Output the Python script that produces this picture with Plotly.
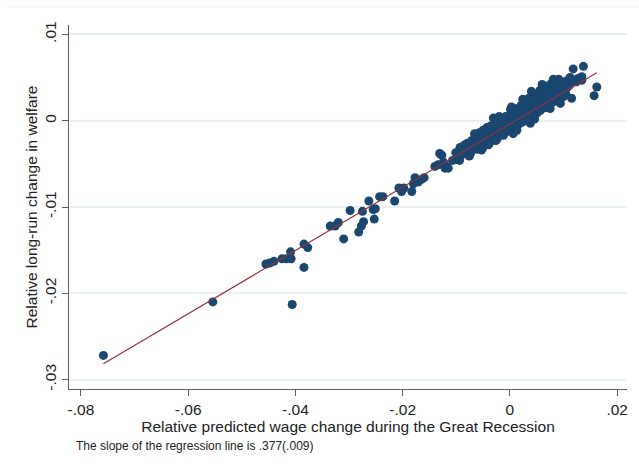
import plotly.graph_objects as go

# ---- data ----
wage_sparse = [-0.0758, -0.0554, -0.0406, -0.0455, -0.0448, -0.0440, -0.0425, -0.0417, -0.0409,
               -0.0408, -0.0384, -0.0377, -0.0384, -0.0335, -0.0326, -0.0320, -0.0310, -0.0298,
               -0.0282, -0.0277, -0.0273, -0.0275, -0.0263, -0.0255, -0.0251, -0.0253, -0.0243,
               -0.0237, -0.0215, -0.0207, -0.0202, -0.0198, -0.0183, -0.0180, -0.0177, -0.0171,
               -0.0165, -0.0160, -0.0140, -0.0134, -0.0127, -0.0124, -0.0121, -0.0115, -0.0107,
               -0.0099, -0.0096, -0.0131, -0.0118, -0.0084, -0.0075, -0.0059,
               0.0118, 0.0137, 0.0162, 0.0157, 0.0134, 0.0124, 0.0115, 0.0127]
welfare_sparse = [-0.0272, -0.0210, -0.0213, -0.0166, -0.0165, -0.0163, -0.0160, -0.0160, -0.0152,
                  -0.0160, -0.0143, -0.0147, -0.0170, -0.0122, -0.0122, -0.0118, -0.0137, -0.0104,
                  -0.0129, -0.0122, -0.0117, -0.0105, -0.0093, -0.0103, -0.0102, -0.0114, -0.0088,
                  -0.0088, -0.0093, -0.0078, -0.0082, -0.0078, -0.0082, -0.0073, -0.0066, -0.0071,
                  -0.0068, -0.0066, -0.0053, -0.0051, -0.0040, -0.0048, -0.0055, -0.0055, -0.0046,
                  -0.0044, -0.0036, -0.0038, -0.0053, -0.0028, -0.0040, -0.0022,
                  0.0060, 0.0063, 0.0039, 0.0029, 0.0047, 0.0045, 0.0026, 0.0049]

wage_cluster = [-0.0101, -0.0099, -0.0093, -0.0091, -0.0094, -0.0086, -0.0084, -0.0079, -0.0077, -0.0076,
                -0.0071, -0.0069, -0.0072, -0.0064, -0.0062, -0.0061, -0.0057, -0.0055, -0.0058, -0.0053,
                -0.0050, -0.0048, -0.0047, -0.0051, -0.0043, -0.0041, -0.0044, -0.0040, -0.0036, -0.0034,
                -0.0033, -0.0037, -0.0029, -0.0027, -0.0030, -0.0026, -0.0022, -0.0020, -0.0019, -0.0023,
                -0.0015, -0.0013, -0.0016, -0.0012, -0.0008, -0.0006, -0.0005, -0.0009, 0.0001, -0.0001,
                0.0002, 0.0000, 0.0004, 0.0007, 0.0009, 0.0006, 0.0008, 0.0014, 0.0013, 0.0016,
                0.0015, 0.0021, 0.0023, 0.0020, 0.0022, 0.0028, 0.0027, 0.0030, 0.0029, 0.0035,
                0.0036, 0.0034, 0.0037, 0.0042, 0.0041, 0.0044, 0.0043, 0.0049, 0.0050, 0.0048,
                0.0051, 0.0056, 0.0055, 0.0058, 0.0057, 0.0063, 0.0064, 0.0062, 0.0065, 0.0070,
                0.0069, 0.0072, 0.0071, 0.0077, 0.0078, 0.0076, 0.0079, 0.0084, 0.0083, 0.0086,
                0.0085, 0.0091, 0.0092, 0.0090, 0.0093, 0.0098, 0.0097, 0.0100, 0.0105, 0.0106,
                0.0104, 0.0112, 0.0111, 0.0119, 0.0003, -0.0043, 0.0006, -0.0053, 0.0109, 0.0099,
                0.0134, -0.0020, 0.0040, 0.0060, 0.0024, -0.0066, 0.0013, 0.0046, 0.0075, 0.0094,
                0.0038, -0.0031, 0.0081]
welfare_cluster = [-0.0037, -0.0045, -0.0031, -0.0040, -0.0046, -0.0029, -0.0038, -0.0026, -0.0034, -0.0041,
                   -0.0023, -0.0030, -0.0036, -0.0019, -0.0027, -0.0033, -0.0014, -0.0021, -0.0029, -0.0034,
                   -0.0011, -0.0018, -0.0026, -0.0032, -0.0008, -0.0016, -0.0022, -0.0028, -0.0006, -0.0013,
                   -0.0020, -0.0025, -0.0004, -0.0010, -0.0017, -0.0023, -0.0001, -0.0008, -0.0014, -0.0020,
                   0.0002, -0.0004, -0.0011, -0.0017, 0.0005, -0.0001, -0.0008, -0.0014, 0.0013, 0.0006,
                   0.0000, -0.0006, -0.0012, 0.0011, 0.0004, -0.0002, -0.0009, 0.0014, 0.0007, 0.0001,
                   -0.0005, 0.0018, 0.0011, 0.0004, -0.0002, 0.0021, 0.0014, 0.0007, 0.0000, 0.0026,
                   0.0018, 0.0010, 0.0003, 0.0029, 0.0021, 0.0013, 0.0006, 0.0031, 0.0024, 0.0016,
                   0.0009, 0.0035, 0.0027, 0.0019, 0.0012, 0.0037, 0.0030, 0.0022, 0.0015, 0.0040,
                   0.0033, 0.0025, 0.0018, 0.0043, 0.0036, 0.0028, 0.0021, 0.0046, 0.0038, 0.0030,
                   0.0023, 0.0048, 0.0040, 0.0032, 0.0024, 0.0044, 0.0036, 0.0028, 0.0046, 0.0038,
                   0.0031, 0.0050, 0.0041, 0.0047, 0.0016, -0.0009, -0.0015, -0.0028, 0.0041, 0.0036,
                   0.0051, 0.0005, 0.0034, 0.0042, 0.0025, -0.0015, -0.0011, 0.0002, 0.0014, 0.0020,
                   -0.0003, 0.0003, 0.0048]

fit_x = [-0.0758, 0.0162]
fit_y = [-0.02816, 0.00556]

x_ticks = [-0.08, -0.06, -0.04, -0.02, 0, 0.02]
x_ticklabels = ["-.08", "-.06", "-.04", "-.02", "0", ".02"]
y_ticks = [-0.03, -0.02, -0.01, 0, 0.01]
y_ticklabels = ["-.03", "-.02", "-.01", "0", ".01"]

note_text = "The slope of the regression line is .377(.009)"
x_title = "Relative predicted wage change during the Great Recession"
y_title = "Relative long-run change in welfare"

FONT = "Liberation Sans, Arial, sans-serif"
NAVY = "#1a476f"
MAROON = "#90353b"
TXT = "#222222"
FS = 15.5

fig = go.Figure()
fig.add_trace(go.Scatter(
    x=wage_sparse + wage_cluster, y=welfare_sparse + welfare_cluster,
    mode="markers",
    marker=dict(color=NAVY, size=9, line=dict(width=0)),
    showlegend=False, hoverinfo="skip"))
fig.add_trace(go.Scatter(
    x=fit_x, y=fit_y, mode="lines",
    line=dict(color=MAROON, width=1.2),
    showlegend=False, hoverinfo="skip"))

fig.update_layout(
    width=639, height=467,
    margin=dict(l=69, r=12, t=25, b=78),
    paper_bgcolor="white", plot_bgcolor="white",
    font=dict(family=FONT, size=FS, color=TXT),
    xaxis=dict(
        range=[-0.08222, 0.02183],
        tickvals=x_ticks, ticktext=x_ticklabels,
        showgrid=False, zeroline=False,
        showline=True, linecolor="#5f5f5f", linewidth=1.3,
        ticks="outside", ticklen=6, tickcolor="#5f5f5f", tickwidth=1.2,
        tickfont=dict(size=FS, color=TXT),
        title=dict(text=x_title, font=dict(size=FS, color=TXT), standoff=0),
    ),
    yaxis=dict(
        range=[-0.03109, 0.01109],
        tickvals=y_ticks, ticktext=y_ticklabels, tickangle=-90,
        showgrid=True, gridcolor="#e8f0f1", gridwidth=1.5,
        zeroline=False,
        showline=True, linecolor="#5f5f5f", linewidth=1.3,
        ticks="outside", ticklen=6, tickcolor="#5f5f5f", tickwidth=1.2,
        tickfont=dict(size=FS, color=TXT),
        title=dict(text=y_title, font=dict(size=FS, color=TXT), standoff=0),
    ),
    annotations=[dict(
        text=note_text, xref="paper", yref="paper",
        x=(74 - 69) / 558, y=-(446 - 389) / 364,
        xanchor="left", yanchor="middle", showarrow=False,
        font=dict(size=12, color=TXT))],
    shapes=[dict(type="line", xref="paper", yref="paper",
                 x0=-0.1117, x1=1.03, y0=1.0495, y1=1.0495,
                 line=dict(color="#eeeeee", width=1))],
)

fig.write_html("out.html")
